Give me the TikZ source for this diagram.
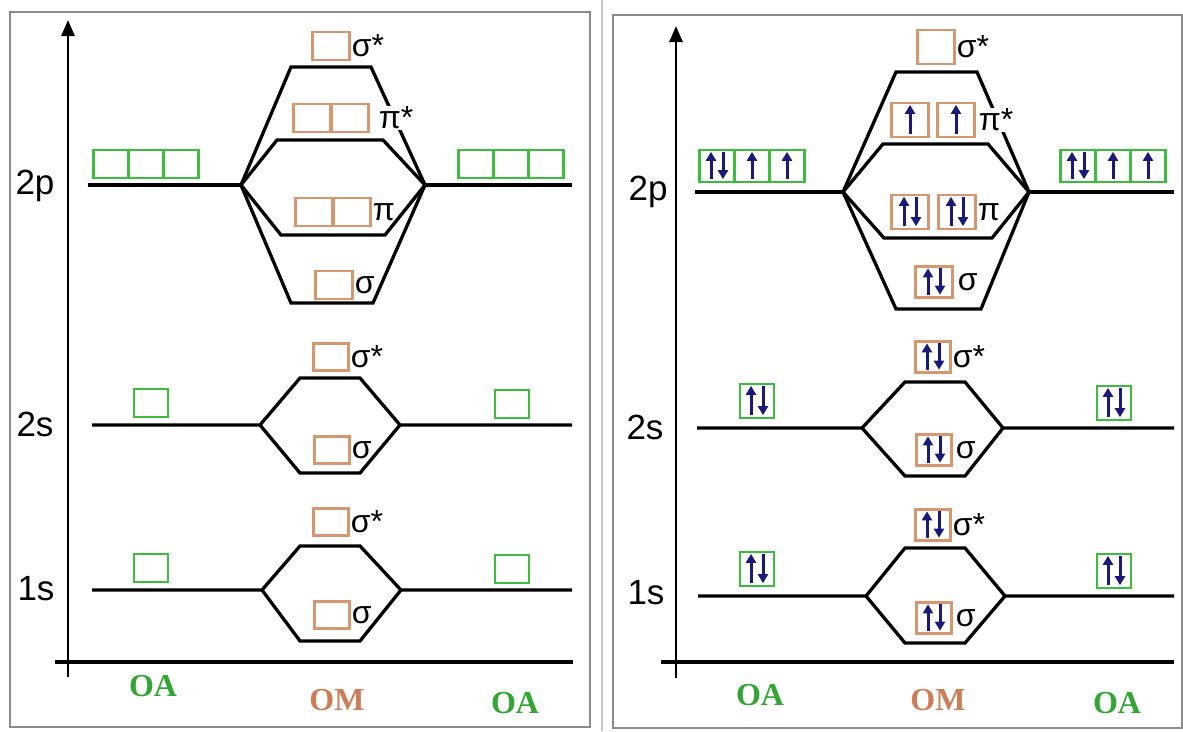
\documentclass[tikz,border=0pt]{standalone}
\usepackage{fontspec}
\setmainfont{Liberation Serif}
\newfontfamily\arialfont{Liberation Sans}
\usetikzlibrary{arrows.meta}
\definecolor{oagreen}{RGB}{60,190,60}
\definecolor{oatext}{RGB}{50,165,50}
\definecolor{omorange}{RGB}{214,150,110}
\definecolor{omtext}{RGB}{205,125,85}
\definecolor{spin}{RGB}{25,25,120}
\definecolor{framegray}{RGB}{140,140,140}

\tikzset{
  lvl/.style={line width=3.3pt},
  oabox/.style={draw=oagreen, line width=2.3pt, fill=white, minimum width=35pt, minimum height=28pt, inner sep=0pt},
  ombox/.style={draw=omorange, line width=2.3pt, fill=white, minimum width=37pt, minimum height=28pt, inner sep=0pt},
  orb/.style={font=\arialfont\fontsize{32}{32}\selectfont, inner sep=1pt},
  shell/.style={font=\arialfont\fontsize{35}{35}\selectfont},
  oa/.style={font=\bfseries\fontsize{32}{32}\selectfont, text=oatext},
  om/.style={font=\bfseries\fontsize{32}{32}\selectfont, text=omtext},
  spinarrow/.style={spin, line width=3pt, -{Triangle[length=9pt,width=10pt]}},
  axis/.style={line width=2.8pt, -{Triangle[length=16pt,width=13pt]}},
}
\newcommand\upspin[1]{\draw[spinarrow] ([yshift=4pt]#1.south) -- ([yshift=-3pt]#1.north);}
\newcommand\pairspin[1]{%
  \draw[spinarrow] ([xshift=-6pt,yshift=4pt]#1.south) -- ([xshift=-6pt,yshift=-3pt]#1.north);
  \draw[spinarrow] ([xshift=6pt,yshift=-3pt]#1.north) -- ([xshift=6pt,yshift=4pt]#1.south);}

\begin{document}
\begin{tikzpicture}[x=1pt,y=-1pt]
\useasboundingbox (0,0) rectangle (1183,731);
% frames
\draw[framegray, line width=2.6pt] (10,12) rectangle (590,727);
\draw[framegray!50, line width=2.2pt] (602,0) -- (602,731);
\draw[framegray, line width=2.6pt] (613,15) rectangle (1182,728);

%%%%%%%%%% left panel: empty orbitals
\coordinate (Lo) at (68,677);
\coordinate (Ltop) at (68,20);
\draw[axis] (Lo) -- (Ltop);
\coordinate (Lh1) at (55,662);
\coordinate (Lh2) at (573,662);
\draw[lvl] (Lh1) -- (Lh2);
\node[shell] (L2p) at (35,186) {2p};
\node[shell] (L2s) at (35,424) {2s};
\node[shell] (L1s) at (36,589) {1s};

% 2p
\coordinate (L2pa) at (88,185);   \coordinate (L2pb) at (241,185);
\coordinate (L2pc) at (425,185);  \coordinate (L2pd) at (572,185);
\draw[lvl] (L2pa) -- (L2pb);
\draw[lvl] (L2pc) -- (L2pd);
\draw[lvl] (L2pb) -- (291,67) -- (371,67) -- (L2pc);
\draw[lvl] (L2pb) -- (277,140) -- (383,140) -- (L2pc);
\draw[lvl] (L2pb) -- (281,235) -- (385,235) -- (L2pc);
\draw[lvl] (L2pb) -- (291,303) -- (373,303) -- (L2pc);
\foreach \i/\x in {1/111,2/146,3/181} \node[oabox] (LpA\i) at (\x,164) {};
\foreach \i/\x in {1/476,2/511,3/546} \node[oabox] (LpB\i) at (\x,164) {};
\node[ombox] (LpSs) at (331,46) {};
\node[ombox] (LpPs1) at (312,118) {};
\node[ombox] (LpPs2) at (350,118) {};
\node[ombox] (LpP1) at (314,212) {};
\node[ombox] (LpP2) at (352,212) {};
\node[ombox] (LpS) at (334,285) {};
\node[orb, anchor=west] (LpSsl) at (LpSs.east) {σ*};
\node[orb, anchor=west, fill=white] (LpPsl) at ([xshift=8pt]LpPs2.east) {π*};
\node[orb, anchor=west] (LpPl) at (LpP2.east) {π};
\node[orb, anchor=west] (LpSl) at (LpS.east) {σ};

% 2s and 1s
\foreach \n/\y/\a/\b/\t/\u in {2s/425/260/400/378/473, 1s/590/262/401/546/641}{
  \coordinate (L\n a) at (92,\y);  \coordinate (L\n b) at (\a,\y);
  \coordinate (L\n c) at (\b,\y);  \coordinate (L\n d) at (572,\y);
  \draw[lvl] (L\n a) -- (L\n b) -- (300,\t) -- (360,\t) -- (L\n c) -- (L\n d);
  \draw[lvl] (L\n b) -- (300,\u) -- (360,\u) -- (L\n c);
  \node[oabox, minimum width=34pt] (L\n A) at (151,\y-22) {};
  \node[oabox, minimum width=34pt] (L\n B) at (512,\y-21) {};
  \node[ombox, minimum width=35pt, minimum height=27pt] (L\n Ss) at (331,\y-68) {};
  \node[ombox, minimum width=35pt, minimum height=27pt] (L\n S) at (332,\y+25) {};
  \node[orb, anchor=west] (L\n Ssl) at (L\n Ss.east) {σ*};
  \node[orb, anchor=west] (L\n Sl) at (L\n S.east) {σ};
}
\node[oa] (LoaA) at (153,686) {OA};
\node[om] (Lom) at (337,700) {OM};
\node[oa] (LoaB) at (515,703) {OA};

%%%%%%%%%% right panel: filled orbitals
\coordinate (Ro) at (676,678);
\coordinate (Rtop) at (676,26);
\draw[axis] (Ro) -- (Rtop);
\coordinate (Rh1) at (661,662);
\coordinate (Rh2) at (1174,662);
\draw[lvl] (Rh1) -- (Rh2);
\node[shell] (R2p) at (648,192) {2p};
\node[shell] (R2s) at (645,427) {2s};
\node[shell] (R1s) at (646,593) {1s};

% 2p
\coordinate (R2pa) at (695,192);  \coordinate (R2pb) at (843,192);
\coordinate (R2pc) at (1029,192); \coordinate (R2pd) at (1174,192);
\draw[lvl] (R2pa) -- (R2pb);
\draw[lvl] (R2pc) -- (R2pd);
\draw[lvl] (R2pb) -- (896,72) -- (977,72) -- (R2pc);
\draw[lvl] (R2pb) -- (883,144) -- (988,144) -- (R2pc);
\draw[lvl] (R2pb) -- (884,238) -- (992,238) -- (R2pc);
\draw[lvl] (R2pb) -- (896,309) -- (981,309) -- (R2pc);
\foreach \i/\x in {1/717,2/752,3/787} \node[oabox, minimum height=32pt] (RpA\i) at (\x,166) {};
\foreach \i/\x in {1/1078,2/1113,3/1148} \node[oabox, minimum height=32pt] (RpB\i) at (\x,166) {};
\node[ombox, minimum height=34pt] (RpSs) at (936,47) {};
\node[ombox, minimum height=34pt] (RpPs1) at (910,120) {};
\node[ombox, minimum height=34pt] (RpPs2) at (956,120) {};
\node[ombox, minimum height=34pt] (RpP1) at (910,212) {};
\node[ombox, minimum height=34pt] (RpP2) at (957,212) {};
\node[ombox, minimum height=31pt] (RpS) at (934,282) {};
\node[orb, anchor=west] (RpSsl) at (RpSs.east) {σ*};
\node[orb, anchor=west, fill=white] (RpPsl) at ([xshift=2pt]RpPs2.east) {π*};
\node[orb, anchor=west] (RpPl) at (RpP2.east) {π};
\node[orb, anchor=west] (RpSl) at ([xshift=3pt]RpS.east) {σ};
\pairspin{RpA1} \upspin{RpA2} \upspin{RpA3}
\pairspin{RpB1} \upspin{RpB2} \upspin{RpB3}
\upspin{RpPs1} \upspin{RpPs2}
\pairspin{RpP1} \pairspin{RpP2} \pairspin{RpS}

% 2s and 1s
\foreach \n/\y/\a/\b/\t/\u/\e in {2s/428/862/1003/382/476/697, 1s/596/866/1005/548/643/698}{
  \coordinate (R\n a) at (\e,\y);    \coordinate (R\n b) at (\a,\y);
  \coordinate (R\n c) at (\b,\y);    \coordinate (R\n d) at (1174,\y);
  \draw[lvl] (R\n a) -- (R\n b) -- (905,\t) -- (965,\t) -- (R\n c) -- (R\n d);
  \draw[lvl] (R\n b) -- (905,\u) -- (965,\u) -- (R\n c);
  \node[oabox, minimum width=34pt, minimum height=34pt] (R\n A) at (757,\y-27) {};
  \node[oabox, minimum width=34pt, minimum height=34pt] (R\n B) at (1114,\y-25) {};
  \node[ombox, minimum width=35pt, minimum height=31pt] (R\n Ss) at (933,\y-71) {};
  \node[ombox, minimum width=35pt, minimum height=31pt] (R\n S) at (934,\y+22) {};
  \node[orb, anchor=west] (R\n Ssl) at (R\n Ss.east) {σ*};
  \node[orb, anchor=west] (R\n Sl) at ([xshift=2pt]R\n S.east) {σ};
  \pairspin{R\n A} \pairspin{R\n B} \pairspin{R\n Ss} \pairspin{R\n S}
}
\node[oa] (RoaA) at (760,695) {OA};
\node[om] (Rom) at (938,700) {OM};
\node[oa] (RoaB) at (1117,703) {OA};
\end{tikzpicture}
\end{document}
